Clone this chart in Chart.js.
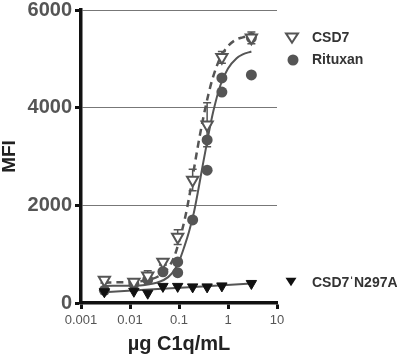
<!DOCTYPE html>
<html>
<head>
<meta charset="utf-8">
<script src="https://cdn.jsdelivr.net/npm/chart.js@4.4.0/dist/chart.umd.min.js"></script>
<style>
  body { margin: 0; background: #fff; }
</style>
</head>
<body>
<canvas id="c1qChart" width="397" height="356"></canvas>
<script>
const xTicks = [0.001, 0.01, 0.1, 1, 10];
const yTicks = [0, 2000, 4000, 6000];
const legendLabels = ['CSD7', 'Rituxan', 'CSD7\u02C8N297A'];

// measured points (ug/mL, MFI)
const csd7Conc = [0.003, 0.012, 0.023, 0.047, 0.094, 0.19, 0.375, 0.75, 3];
const csd7Mfi = [470, 430, 560, 840, 1350, 2520, 3650, 5030, 5430];
const csd7Sd = [60, 50, 100, 60, 150, 220, 450, 120, 120];

const rituxanConc = [0.003, 0.012, 0.023, 0.047, 0.094, 0.094, 0.19, 0.375, 0.375, 0.75, 0.75, 3, 3];
const rituxanMfi = [260, 390, 480, 640, 840, 620, 1700, 3340, 2720, 4610, 4320, 5430, 4670];

const n297aConc = [0.003, 0.012, 0.023, 0.047, 0.094, 0.19, 0.375, 0.75, 3];
const n297aMfi = [230, 240, 200, 340, 340, 330, 330, 350, 400];

// fitted curves
const fitConc = [0.003, 0.01, 0.02, 0.04, 0.06, 0.08, 0.1, 0.13, 0.16, 0.2, 0.25, 0.3, 0.4, 0.5, 0.7, 1, 1.5, 2, 3];
const csd7Fit = [420, 430, 460, 560, 720, 950, 1260, 1700, 2150, 2720, 3280, 3700, 4280, 4640, 5030, 5260, 5400, 5440, 5480];
const rituxanFit = [350, 355, 370, 435, 530, 670, 850, 1170, 1460, 1840, 2340, 2780, 3450, 3920, 4460, 4800, 5010, 5090, 5150];
const n297aFitConc = [0.003, 0.03, 0.3, 3];
const n297aFit = [220, 280, 340, 400];

const FONT = "'Liberation Sans', Arial, Helvetica, sans-serif";
const GRAY = '#555';
const BLACK = '#111';

const pts = (xs, ys) => xs.map((x, i) => ({ x: x, y: ys[i] }));

function downTriangle(ctx, x, y, r) {
    ctx.beginPath();
    ctx.moveTo(x - r, y - r * 0.6);
    ctx.lineTo(x + r, y - r * 0.6);
    ctx.lineTo(x, y + r * 0.95);
    ctx.closePath();
}

const errorBars = {
    id: 'errorBars',
    beforeDatasetsDraw(chart) {
        const ctx = chart.ctx;
        const xs = chart.scales.x, ys = chart.scales.y;
        ctx.save();
        ctx.strokeStyle = GRAY;
        ctx.lineWidth = 1.5;
        csd7Conc.forEach((c, i) => {
            const px = xs.getPixelForValue(c);
            const top = ys.getPixelForValue(csd7Mfi[i] + csd7Sd[i]);
            const bot = ys.getPixelForValue(csd7Mfi[i] - csd7Sd[i]);
            ctx.beginPath();
            ctx.moveTo(px, top); ctx.lineTo(px, bot);
            ctx.moveTo(px - 4, top); ctx.lineTo(px + 4, top);
            ctx.moveTo(px - 4, bot); ctx.lineTo(px + 4, bot);
            ctx.stroke();
        });
        ctx.restore();
    }
};

const sideLegend = {
    id: 'sideLegend',
    afterDraw(chart) {
        const ctx = chart.ctx;
        ctx.save();
        // open triangle
        downTriangle(ctx, 292, 37, 6);
        ctx.fillStyle = '#fff'; ctx.fill();
        ctx.strokeStyle = GRAY; ctx.lineWidth = 2; ctx.stroke();
        // circle
        ctx.beginPath();
        ctx.arc(293, 60, 5.5, 0, Math.PI * 2);
        ctx.fillStyle = GRAY; ctx.fill();
        // filled triangle
        downTriangle(ctx, 291, 281, 5.5);
        ctx.fillStyle = BLACK; ctx.fill();

        ctx.fillStyle = '#333';
        ctx.font = 'bold 14px ' + FONT;
        ctx.textBaseline = 'middle';
        ctx.fillText(legendLabels[0], 312, 38);
        ctx.fillText(legendLabels[1], 312, 60);
        ctx.fillText(legendLabels[2], 312, 283);
        ctx.restore();
    }
};

const ctx = document.getElementById('c1qChart').getContext('2d');
const myChart = new Chart(ctx, {
    type: 'scatter',
    data: {
        datasets: [
            {
                label: legendLabels[2],
                data: pts(n297aConc, n297aMfi),
                pointStyle: 'triangle',
                rotation: 180,
                pointRadius: 6,
                backgroundColor: BLACK,
                borderColor: BLACK,
                borderWidth: 1,
                order: 1
            },
            {
                label: legendLabels[0],
                data: pts(csd7Conc, csd7Mfi),
                pointStyle: 'triangle',
                rotation: 180,
                pointRadius: 6.5,
                backgroundColor: '#fff',
                borderColor: GRAY,
                borderWidth: 2,
                order: 2
            },
            {
                label: legendLabels[1],
                data: pts(rituxanConc, rituxanMfi),
                pointStyle: 'circle',
                pointRadius: 5.5,
                backgroundColor: GRAY,
                borderColor: GRAY,
                borderWidth: 0,
                order: 3
            },
            {
                label: 'CSD7 fit',
                data: pts(fitConc, csd7Fit),
                showLine: true,
                pointRadius: 0,
                borderColor: GRAY,
                borderWidth: 2.5,
                borderDash: [7, 5],
                cubicInterpolationMode: 'monotone',
                order: 4
            },
            {
                label: 'Rituxan fit',
                data: pts(fitConc, rituxanFit),
                showLine: true,
                pointRadius: 0,
                borderColor: GRAY,
                borderWidth: 2,
                cubicInterpolationMode: 'monotone',
                order: 5
            },
            {
                label: 'N297A fit',
                data: pts(n297aFitConc, n297aFit),
                showLine: true,
                pointRadius: 0,
                borderColor: GRAY,
                borderWidth: 2,
                cubicInterpolationMode: 'monotone',
                order: 6
            }
        ]
    },
    options: {
        responsive: false,
        animation: false,
        clip: false,
        layout: { padding: { top: 10, right: 120, left: 0, bottom: 0 } },
        plugins: {
            legend: { display: false },
            tooltip: { enabled: false }
        },
        scales: {
            x: {
                type: 'logarithmic',
                min: 0.001,
                max: 10,
                afterBuildTicks: s => { s.ticks = xTicks.map(v => ({ value: v })); },
                afterFit: s => { s.height = 53; s.paddingLeft = 0; s.paddingRight = 0; },
                ticks: {
                    callback: v => String(v),
                    color: GRAY,
                    font: { family: FONT, size: 13 },
                    padding: 4,
                    maxRotation: 0,
                    autoSkip: false
                },
                grid: { drawOnChartArea: false, tickLength: 6, tickColor: BLACK, tickWidth: 3 },
                border: { color: BLACK, width: 3.5 },
                title: {
                    display: true,
                    text: 'µg C1q/mL',
                    color: '#222',
                    font: { family: FONT, size: 20, weight: 'bold', lineHeight: 1 },
                    padding: { top: 0, bottom: 2 }
                }
            },
            y: {
                min: 0,
                max: 6000,
                afterBuildTicks: s => { s.ticks = yTicks.map(v => ({ value: v })); },
                afterFit: s => { s.width = 81; s.paddingTop = 0; s.paddingBottom = 0; },
                ticks: {
                    callback: v => String(v),
                    color: GRAY,
                    font: { family: FONT, size: 20, weight: 'bold' },
                    padding: 3
                },
                grid: { color: '#777', lineWidth: 1, tickLength: 6, tickColor: BLACK, tickWidth: 3 },
                border: { color: BLACK, width: 3.5 },
                title: {
                    display: true,
                    text: 'MFI',
                    color: '#222',
                    font: { family: FONT, size: 19, weight: 'bold', lineHeight: 1 },
                    padding: { top: 0, bottom: 0 }
                }
            }
        }
    },
    plugins: [errorBars, sideLegend]
});
</script>
</body>
</html>
